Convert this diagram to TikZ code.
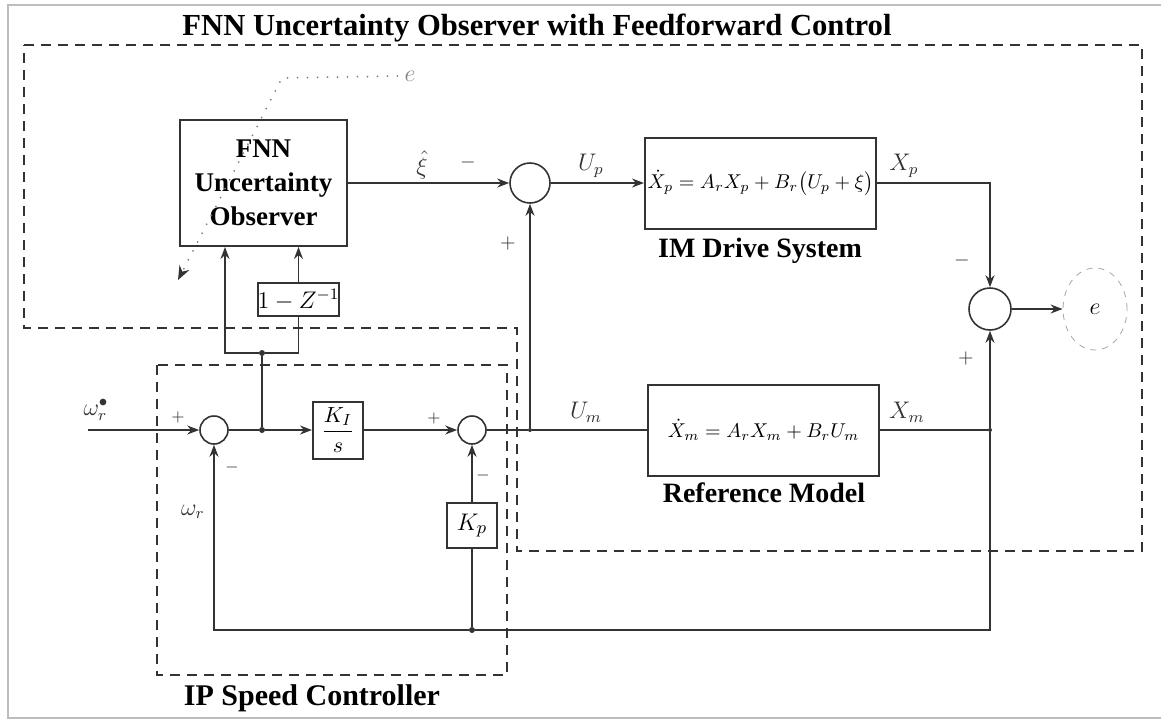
\documentclass[tikz,border=0pt]{standalone}
\usepackage{fontspec}
\setmainfont{Liberation Serif}
\usepackage{amsmath}
\usepackage{tikz}
\usetikzlibrary{arrows.meta,positioning,shapes.geometric}
\definecolor{inkgray}{HTML}{333333}
\definecolor{framegray}{HTML}{BDBDBD}

\begin{document}
\begin{tikzpicture}[x=0.5pt,y=-0.5pt,
  blk/.style={rectangle,draw=inkgray,line width=1pt,inner sep=0pt,align=center},
  sumj/.style={circle,draw=inkgray,line width=0.8pt,inner sep=0pt},
  ln/.style={line width=0.8pt,draw=inkgray},
  arr/.style={ln,-{Stealth[length=6pt,width=4.5pt]}},
  zone/.style={line width=0.75pt,draw=inkgray,dash pattern=on 5pt off 3.5pt},
  dotj/.style={circle,fill=inkgray,inner sep=0pt,minimum size=3pt},
  sgn/.style={font=\fontsize{10}{12}\selectfont,text=inkgray},
  sig/.style={font=\fontsize{12}{14}\selectfont,text=inkgray},
  blkcap/.style={font=\bfseries\fontsize{14}{16}\selectfont,anchor=base}
]
\useasboundingbox (0,0) rectangle (1161,724);
\draw[framegray,line width=1pt] (1161,5) -- (8,5) -- (8,718) -- (1161,718);
\node[font=\bfseries\fontsize{15.3}{18}\selectfont,anchor=base] (ttl) at (537,35) {FNN Uncertainty Observer with Feedforward Control};
\draw[zone] (24,45) -- (1142,45) -- (1142,551) -- (517,551) -- (517,328) -- (24,328) -- cycle;
\draw[zone] (157,365) rectangle (507,675);
\node[font=\bfseries\fontsize{15}{18}\selectfont,anchor=base] (iplbl) at (312,705) {IP Speed Controller};

\node[blk,minimum width=83.5pt,minimum height=63pt,font=\bfseries\fontsize{13.5}{17}\selectfont] (fnn) at (263.5,183) {FNN\\Uncertainty\\Observer};
\node[sumj,minimum size=20pt] (s1) at (530,183) {};
\node[blk,minimum width=115.5pt,minimum height=45.5pt,font=\fontsize{9.8}{12}\selectfont] (im) at (760.5,183) {$\dot X_p = A_r X_p + B_r\bigl(U_p+\xi\bigr)$};
\node[blkcap] (imlbl) at (760,257) {IM Drive System};
\node[sumj,minimum size=21pt] (s3) at (990,309) {};
\node[ellipse,draw=gray!70,dashed,minimum width=32pt,minimum height=41pt,inner sep=0pt,font=\fontsize{13}{14}\selectfont] (eout) at (1095,309) {$e$};
\node[blk,minimum width=115.5pt,minimum height=45.5pt,font=\fontsize{9.8}{12}\selectfont] (refm) at (763.5,430) {$\dot X_m = A_r X_m + B_r U_m$};
\node[blkcap] (reflbl) at (764,502) {Reference Model};
\node[sumj,minimum size=14pt] (sa) at (214,430) {};
\node[sumj,minimum size=14pt] (sb) at (472,430) {};
\node[blk,minimum width=25pt,minimum height=28.5pt,font=\fontsize{11}{12}\selectfont] (ki) at (338,430) {$\dfrac{K_I}{s}$};
\node[blk,minimum width=25pt,minimum height=22.5pt,font=\fontsize{13}{14}\selectfont] (kp) at (472,525.5) {$K_p$};
\node[blk,minimum width=40.5pt,minimum height=16.5pt,font=\fontsize{12}{14}\selectfont] (dz) at (298.5,299.5) {$1-Z^{-1}$};

\coordinate (win) at (88,430);
\node[dotj] (j1) at (262,430) {};
\node[dotj] (j2) at (262,353) {};
\node[dotj,minimum size=2pt] (jum) at (530,430) {};
\node[dotj,minimum size=2pt] (jxm) at (990,430) {};
\node[dotj] (jfb) at (472,630) {};
\coordinate (dotc) at (282,78);
\coordinate (dtip) at (178,280);
\node[font=\fontsize{12}{14}\selectfont,text=gray] (eobs) at (410,76) {$e$};

\draw[gray,line width=1pt,line cap=round,dash pattern=on 0pt off 5pt,-{Stealth[length=7pt,width=5.5pt,line cap=butt,inkgray]}] (eobs.west) -- (dotc) -- (dtip);
\draw[arr] (fnn.east) -- (s1.west);
\draw[arr] (s1.east) -- (im.west);
\draw[arr] (im.east) -| (s3.north);
\draw[arr] (s3.east) -- (eout.west);
\draw[arr] (jxm) -- (s3.south);
\draw[ln] (refm.east) -- (jxm);
\draw[ln] (jxm) |- (jfb);
\draw[arr] (jfb) -| (sa.south);
\draw[ln] (jfb) -- (kp.south);
\draw[arr] (kp.north) -- (sb.south);
\draw[arr] (win) -- (sa.west);
\draw[ln] (sa.east) -- (j1);
\draw[arr] (j1) -- (ki.west);
\draw[arr] (ki.east) -- (sb.west);
\draw[ln] (sb.east) -- (jum);
\draw[ln] (jum) -- (refm.west);
\draw[arr] (jum) -- (s1.south);
\draw[ln] (j1) -- (j2);
\draw[arr] (j2) -| ([xshift=23pt]fnn.south west);
\draw[ln] (j2) -| (dz.south);
\draw[arr] (dz.north) -- (dz.north |- fnn.south);

\node[sig] at (422,165) {$\hat{\xi}$};
\node[sgn] at (468,162) {$-$};
\node[sgn] at (508,243) {$+$};
\node[sig] at (591,166) {$U_p$};
\node[sig] at (904,166) {$X_p$};
\node[sgn] at (962,260) {$-$};
\node[sgn] at (966,358) {$+$};
\node[sig] at (586,412) {$U_m$};
\node[sig] at (907,412) {$X_m$};
\node[sig] at (96,410) {$\omega_r^{\bullet}$};
\node[sig] at (193,512) {$\omega_r$};
\node[sgn,font=\fontsize{8}{9}\selectfont] at (178,417) {$+$};
\node[sgn,font=\fontsize{8}{9}\selectfont] at (232,467) {$-$};
\node[sgn,font=\fontsize{8}{9}\selectfont] at (434,418) {$+$};
\node[sgn,font=\fontsize{8}{9}\selectfont] at (483,475) {$-$};
\end{tikzpicture}
\end{document}
